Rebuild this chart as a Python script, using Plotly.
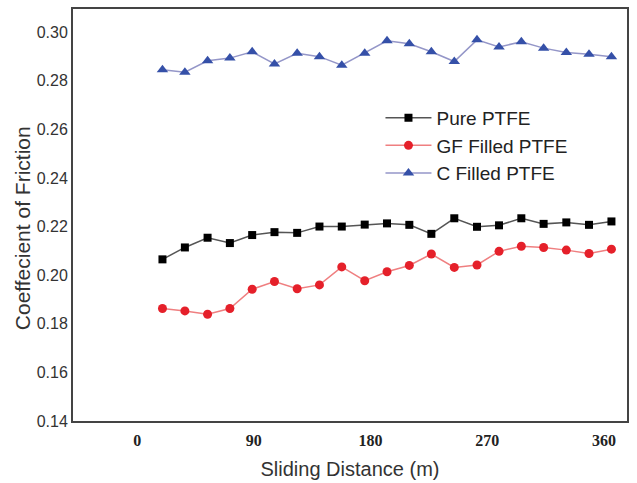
import plotly.graph_objects as go

# Sliding distance (m) at each measurement
distance = [19.5, 36.8, 54.3, 71.5, 88.7, 105.9, 123.4, 140.6, 157.8, 175.5,
            192.7, 209.9, 226.9, 244.6, 262.1, 279.1, 296.3, 313.5, 331.0, 348.5, 365.8]

pure_ptfe = [0.2065, 0.2114, 0.2154, 0.2132, 0.2165, 0.2177, 0.2174, 0.2200, 0.2200, 0.2208,
             0.2213, 0.2207, 0.2170, 0.2234, 0.2199, 0.2205, 0.2234, 0.2211, 0.2217, 0.2207, 0.2221]

gf_filled = [0.1863, 0.1853, 0.1839, 0.1863, 0.1942, 0.1974, 0.1944, 0.1960, 0.2034, 0.1977,
             0.2014, 0.2040, 0.2087, 0.2032, 0.2042, 0.2098, 0.2119, 0.2114, 0.2103, 0.2089, 0.2107]

c_filled = [0.2845, 0.2835, 0.2882, 0.2893, 0.2919, 0.2869, 0.2913, 0.2899, 0.2864, 0.2913,
            0.2964, 0.2952, 0.2919, 0.2879, 0.2968, 0.2939, 0.2960, 0.2934, 0.2916, 0.2909, 0.2899]

x_ticks = [0, 90, 180, 270, 360]
y_ticks = [0.14, 0.16, 0.18, 0.20, 0.22, 0.24, 0.26, 0.28, 0.30]

fig = go.Figure()
fig.add_trace(go.Scatter(
    x=distance, y=pure_ptfe, name="Pure PTFE", mode="lines+markers",
    line=dict(color="#555555", width=1.5),
    marker=dict(symbol="square", size=8, color="#000000"),
))
fig.add_trace(go.Scatter(
    x=distance, y=gf_filled, name="GF Filled PTFE", mode="lines+markers",
    line=dict(color="#ef7f80", width=1.5),
    marker=dict(symbol="circle", size=9, color="#e5202a"),
))
fig.add_trace(go.Scatter(
    x=distance, y=c_filled, name="C Filled PTFE", mode="lines+markers",
    line=dict(color="#9496c8", width=1.5),
    marker=dict(symbol="triangle-up", size=10, color="#3550a8"),
))

axis_line = dict(showline=True, linecolor="#444444", linewidth=2, mirror=True,
                 showgrid=False, zeroline=False, ticks="", automargin=False)

fig.update_layout(
    width=637, height=483,
    margin=dict(l=73, r=10, t=9, b=62),
    paper_bgcolor="white", plot_bgcolor="white",
    font=dict(family="Liberation Sans, Arial, sans-serif", color="#333333"),
    xaxis=dict(
        range=[-49.5, 377.8], tickvals=x_ticks, ticktext=[str(v) for v in x_ticks],
        tickfont=dict(family="Liberation Serif, Times New Roman, serif", size=16,
                      color="#222222", weight="bold"),
        ticklabelstandoff=4,
        title=dict(text="Sliding Distance (m)", font=dict(size=20, color="#333333"), standoff=14),
        **axis_line,
    ),
    yaxis=dict(
        range=[0.14, 0.3095], tickvals=y_ticks, ticktext=[f"{v:.2f}" for v in y_ticks],
        tickfont=dict(size=16, color="#333333"),
        **axis_line,
    ),
    annotations=[dict(
        text="Coeffecient of Friction", textangle=-90,
        xref="paper", yref="paper", x=-0.092, y=0.468,
        xanchor="center", yanchor="middle", showarrow=False,
        font=dict(size=21, color="#333333"),
    )],
    legend=dict(
        x=0.555, y=0.782, xanchor="left", yanchor="top",
        bgcolor="rgba(0,0,0,0)", font=dict(size=19, color="#222222"),
        tracegroupgap=0, itemwidth=46,
    ),
    showlegend=True,
)

fig.write_html("out.html")
